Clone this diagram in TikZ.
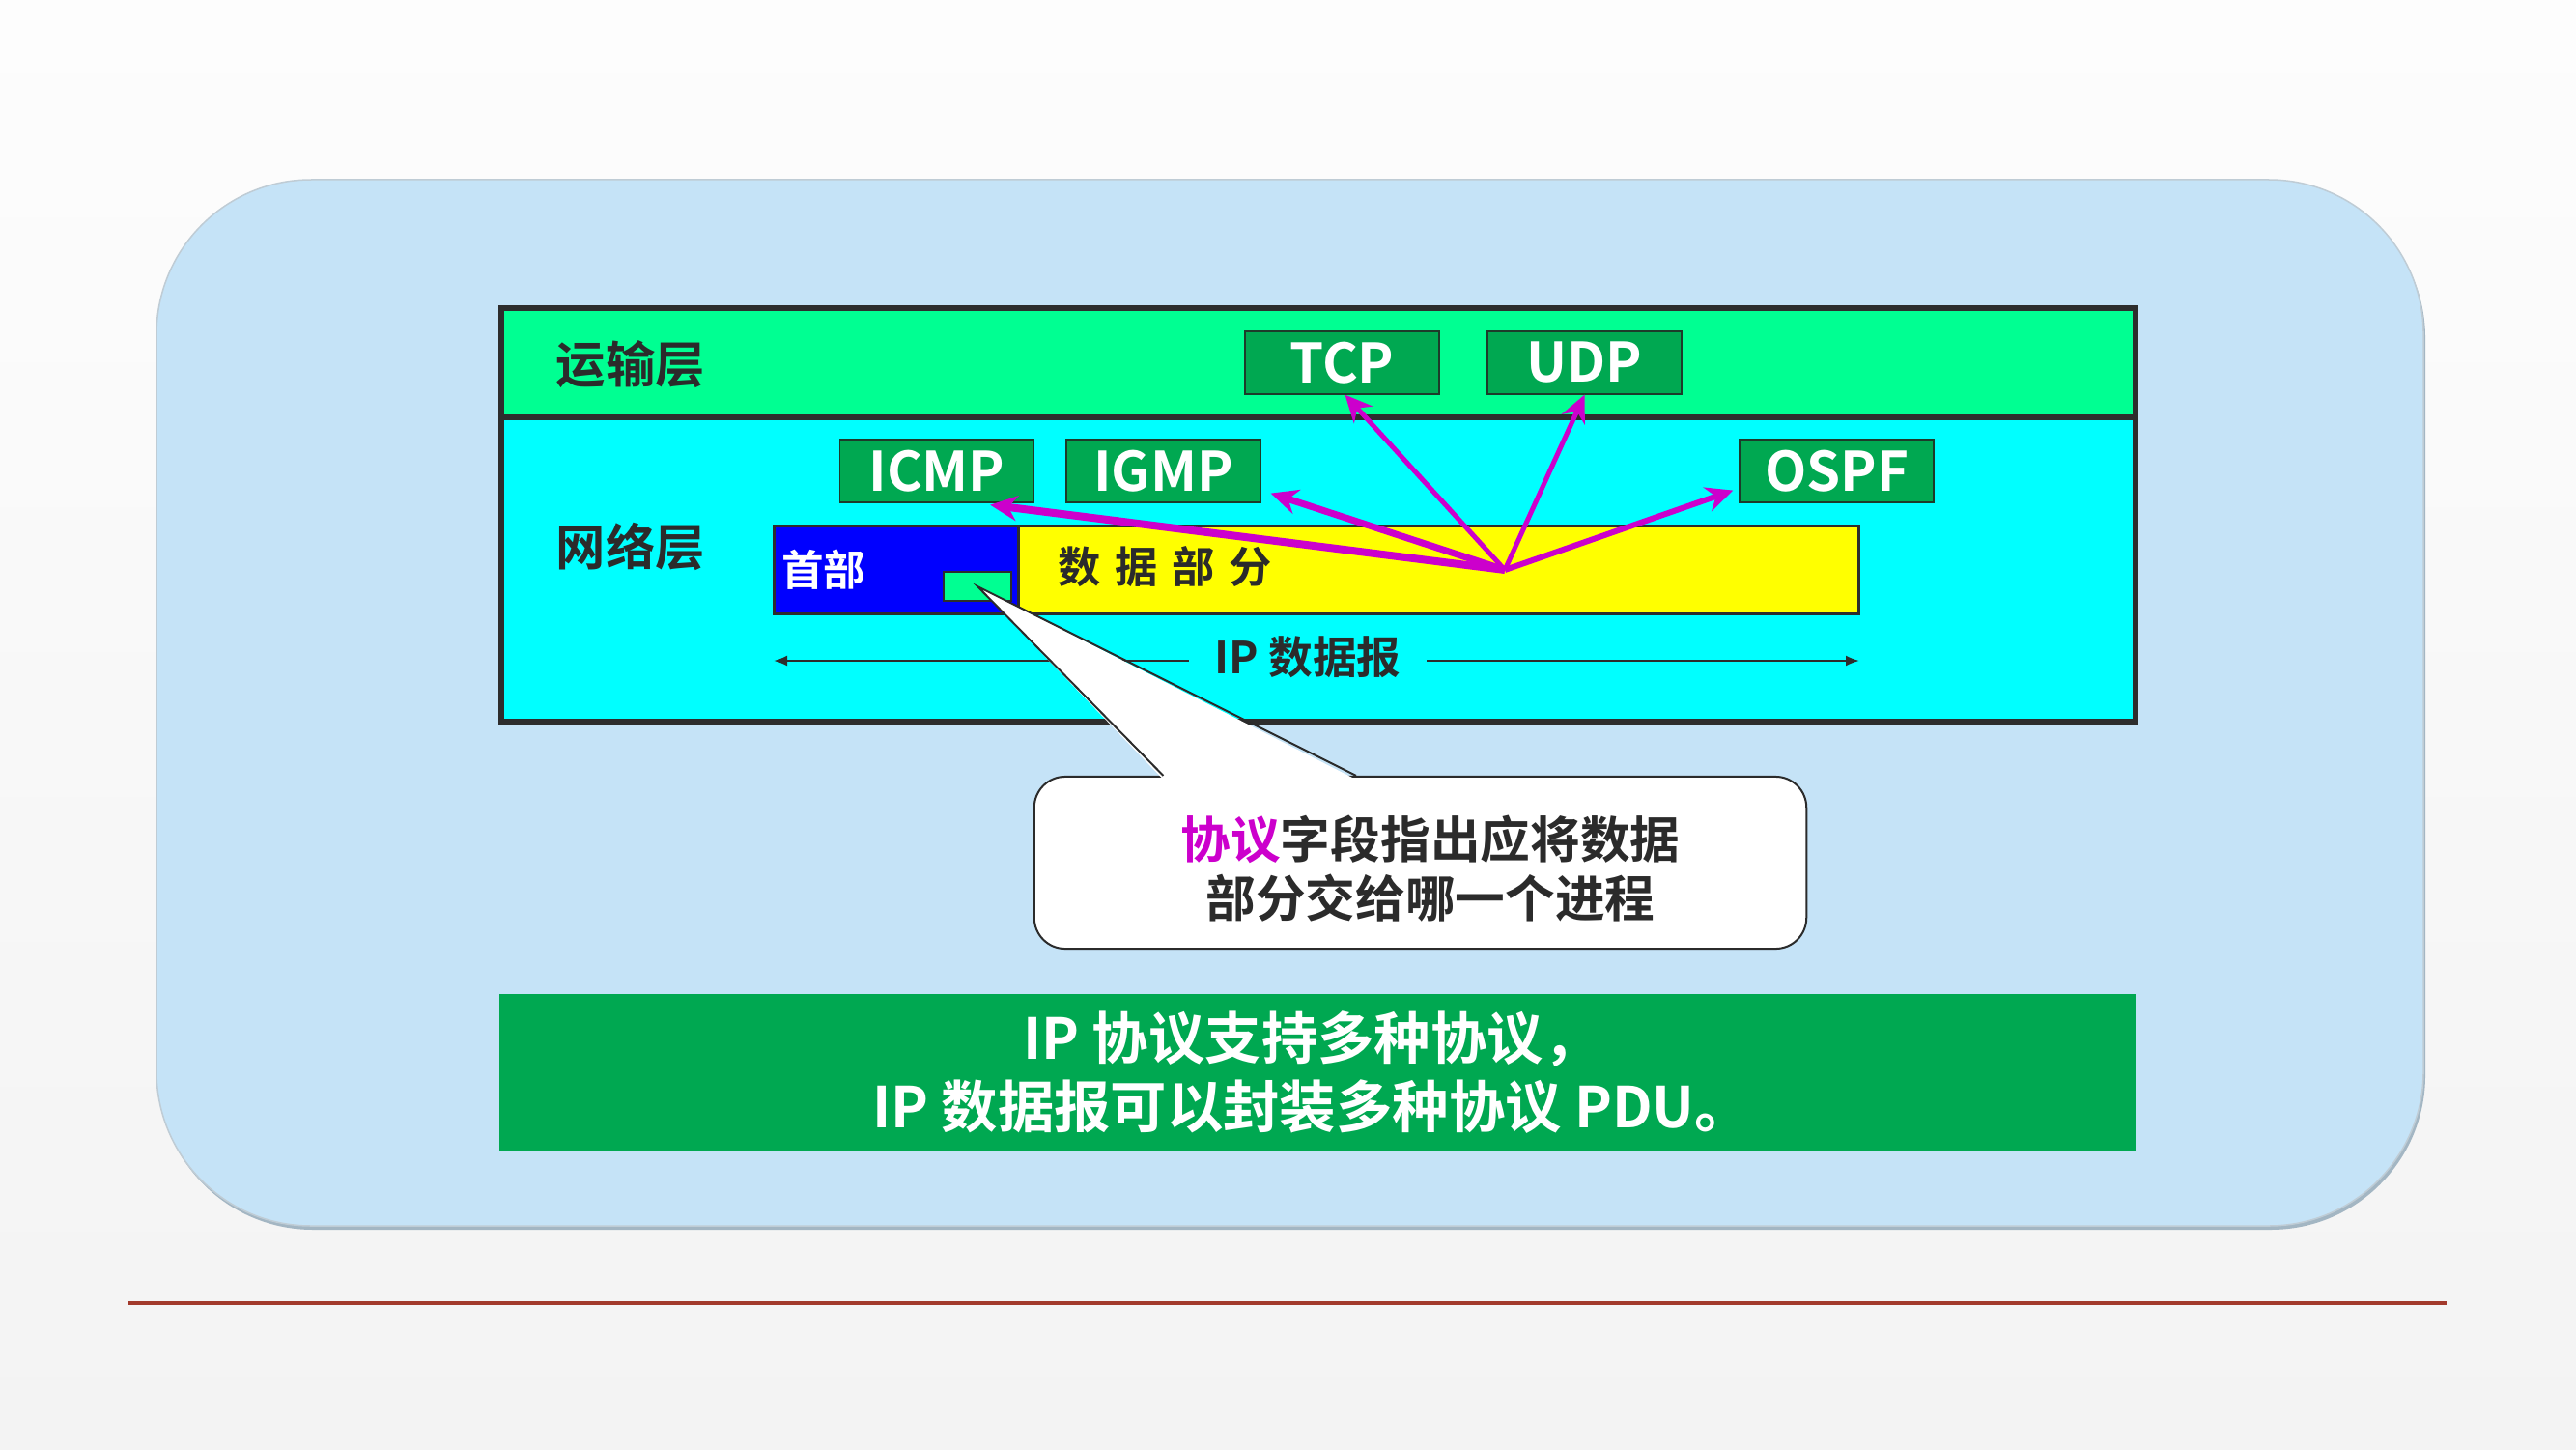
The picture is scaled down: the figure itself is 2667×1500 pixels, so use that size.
\documentclass[tikz,border=0pt]{standalone}
\usepackage{fontspec}
\setmainfont{Noto Sans CJK SC}[BoldFont={Noto Sans CJK SC Bold}]
\usetikzlibrary{arrows.meta,calc}

\definecolor{bgtop}{HTML}{FDFDFD}
\definecolor{bgbot}{HTML}{F3F3F3}
\definecolor{panelfill}{HTML}{C5E3F7}
\definecolor{paneledge}{HTML}{A3B6C3}
\definecolor{tgreen}{HTML}{00FF92}
\definecolor{ncyan}{HTML}{00FFFF}
\definecolor{pgreen}{HTML}{00A851}
\definecolor{pedge}{HTML}{1D3B2A}
\definecolor{darkline}{HTML}{2D2D2D}
\definecolor{darktext}{HTML}{2B2B2B}
\definecolor{hdrblue}{HTML}{0000FF}
\definecolor{datayellow}{HTML}{FFFF00}
\definecolor{magentaline}{HTML}{CC00CC}
\definecolor{rule}{HTML}{A23A2C}

\begin{document}
\begin{tikzpicture}[x=0.01cm, y=-0.01cm,
  layerbox/.style={draw=darkline, line width=0.06cm, inner sep=0pt},
  layerlabel/.style={anchor=west, inner sep=0pt, text=darktext,
    font=\fontsize{14.6pt}{17pt}\selectfont\bfseries},
  protobox/.style={draw=pedge, line width=0.012cm, fill=pgreen, text=white,
    minimum width=2.01cm, minimum height=0.65cm, inner sep=0pt,
    font=\fontsize{16pt}{19pt}\selectfont\bfseries},
  barbox/.style={draw=darkline, line width=0.03cm, inner sep=0pt, minimum height=0.90cm},
  protoarrow/.style={draw=magentaline, fill=magentaline,
    -{Stealth[length=0.28cm, width=0.26cm]}},
  dimline/.style={draw=darkline, line width=0.02cm,
    -{Latex[length=0.14cm, width=0.11cm]}},
  calloutbox/.style={draw=darktext, line width=0.02cm, fill=white,
    rounded corners=0.32cm, minimum width=7.99cm, minimum height=1.78cm},
  callouttext/.style={align=center, text=darktext, inner sep=0pt,
    font=\fontsize{14.7pt}{17.4pt}\selectfont\bfseries},
  banner/.style={fill=pgreen, minimum width=16.93cm, minimum height=1.63cm,
    inner sep=0pt},
  bannertext/.style={text=white, align=center, inner sep=0pt,
    font=\fontsize{16.6pt}{20.2pt}\selectfont\bfseries}
]
\useasboundingbox (0,0) rectangle (2667,1500);

% slide background
\shade[top color=bgtop, bottom color=bgbot] (0,0) rectangle (2667,1500);

% rounded light-blue panel with a soft lower edge
\fill[paneledge, rounded corners=1.6cm] (164,190) rectangle (2511,1273);
\draw[draw=paneledge!70, fill=panelfill, line width=0.015cm, rounded corners=1.6cm]
  (162,186) rectangle (2509,1269);

% rule under the panel
\draw[rule, line width=0.035cm] (133,1349) -- (2533,1349);

% the two layers
\node[layerbox, fill=tgreen, minimum width=16.91cm, minimum height=1.13cm]
  (transport) at (1364.5,375.5) {};
\node[layerbox, fill=ncyan, minimum width=16.91cm, minimum height=3.15cm]
  (network) at (1364.5,589.5) {};
\node[layerlabel] (tlabel) at (575,377) {运输层};
\node[layerlabel] (nlabel) at (575,566) {网络层};

% protocols
\node[protobox] (tcp)  at (1389.5,375.5) {TCP};
\node[protobox] (udp)  at (1640.5,375.5) {UDP};
\node[protobox] (icmp) at (970,487.5)    {ICMP};
\node[protobox] (igmp) at (1204.5,487.5) {IGMP};
\node[protobox] (ospf) at (1901.5,487.5) {OSPF};

% IP datagram: header and data part
\node[barbox, fill=hdrblue, minimum width=2.53cm] (header) at (928.5,590) {};
\node[barbox, fill=datayellow, minimum width=8.69cm] (data) at (1489.5,590) {};
\node[anchor=west, inner sep=0pt, text=white,
  font=\fontsize{12.4pt}{14pt}\selectfont\bfseries] (hdrtext)
  at ([xshift=0.08cm]header.west) {首部};
\node[anchor=west, inner sep=0pt, text=darktext,
  font=\fontsize{12.6pt}{14pt}\selectfont\bfseries] (datatext)
  at ([xshift=0.42cm, yshift=0.03cm]data.west) {数\hspace{0.33em}据\hspace{0.33em}部\hspace{0.33em}分};
\node[draw=darkline, line width=0.02cm, fill=tgreen, minimum width=0.70cm,
  minimum height=0.30cm, inner sep=0pt] (field) at (1012,607) {};

% arrows from the data part to the protocols
\coordinate (hub) at (1558,590);
\draw[protoarrow, line width=0.08cm] (hub) -- ([xshift=-0.46cm, yshift=-0.02cm]icmp.south east);
\draw[protoarrow, line width=0.07cm] (hub) -- ([xshift=0.10cm, yshift=0.10cm]igmp.south east);
\draw[protoarrow, line width=0.05cm] (hub) -- ([xshift=0.03cm]tcp.south);
\draw[protoarrow, line width=0.05cm] (hub) -- (udp.south);
\draw[protoarrow, line width=0.06cm] (hub) -- ([xshift=-0.06cm, yshift=0.13cm]ospf.south west);

% datagram length
\node[inner xsep=0.26cm, inner ysep=0pt, text=darktext,
  font=\fontsize{13pt}{15pt}\selectfont\bfseries] (ipdg) at (1354,680) {IP 数据报};
\coordinate (ipL) at (801,684);
\coordinate (ipR) at (1925,684);
\draw[dimline] (ipdg.west |- ipL) -- (ipL);
\draw[dimline] (ipdg.east |- ipR) -- (ipR);

% callout
\node[calloutbox] (callout) at (1470.5,893) {};
\node[callouttext] (calltext) at (1481,899)
  {{\color{magentaline}协议}字段指出应将数据\\部分交给哪一个进程};
\coordinate (cb1) at ($(callout.north west)!0.168!(callout.north east)$);
\coordinate (cb2) at ($(callout.north west)!0.417!(callout.north east)$);
\fill[white] ([yshift=-0.04cm]cb1) -- (field.center) -- ([yshift=-0.04cm]cb2) -- cycle;
\draw[darktext, line width=0.02cm, line join=miter] (cb1) -- (field.center) -- (cb2);

% summary banner
\node[banner] (summary) at (1363.5,1110.5) {};
\node[bannertext] (summarytext) at (1358,1110.5)
  {IP 协议支持多种协议，\\IP 数据报可以封装多种协议 PDU。};
\end{tikzpicture}
\end{document}
